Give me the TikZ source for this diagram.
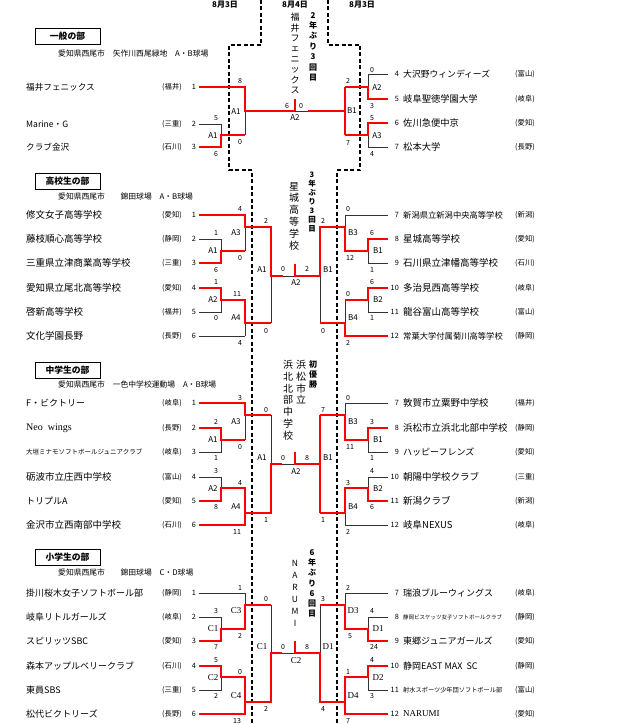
\documentclass[tikz,border=0pt]{standalone}
\usepackage{fontspec}
\setmainfont{Noto Sans CJK JP}
\newfontfamily\lser{Liberation Serif}
\newcommand\tml[5][9.3]{\node[pf] at (172,#2) {(#4)};\node[tn] at (194,#2) {#5};\node[nm,font=\fontsize{#1}{#1}\selectfont] at (26,#2) {#3};}
\newcommand\tmr[5][9.3]{\node[tn,anchor=east] at (399,#2) {#3};\node[nm,font=\fontsize{#1}{#1}\selectfont] at (403,#2) {#4};\node[pf] at (525,#2) {(#5)};}
\begin{document}
\begin{tikzpicture}[x=1pt,y=-1pt,
  thin/.style={line width=0.7pt,draw=black!80},
  win/.style={line width=2.3pt,draw=red,line join=miter},
  dsh/.style={line width=1.1pt,dash pattern=on 4pt off 2.5pt},
  sc/.style={font=\fontsize{7}{8}\selectfont,inner sep=0pt},
  lb/.style={font=\fontsize{8}{9}\selectfont,inner sep=0pt},
  nm/.style={anchor=west,inner sep=0pt},
  pf/.style={font=\fontsize{7.3}{8}\selectfont,inner sep=0pt},
  tn/.style={font=\fontsize{7.3}{8}\selectfont,inner sep=0pt},
  ttl/.style={draw,line width=0.8pt,minimum width=65pt,minimum height=16pt,inner sep=0pt,font=\bfseries\fontsize{8.8}{9}\selectfont},
  ven/.style={anchor=west,inner sep=0pt,font=\fontsize{7.8}{8}\selectfont},
  hd/.style={inner sep=0pt,font=\bfseries\fontsize{8}{9}\selectfont},
  vt/.style={anchor=north,align=center,inner sep=0pt}
]
\useasboundingbox (0,0) rectangle (621,725);
\fill[white] (0,0) rectangle (621,725);
% headers
\node[hd] (h1) at (225,5) {8月3日};
\node[hd] (h2) at (295,5) {8月4日};
\node[hd] (h3) at (362,5) {8月3日};
% dashed separators
\draw[dsh] (261,0)--(261,45)--(229,45)--(229,170)--(252,170)--(252,725);
\draw[dsh] (328,0)--(328,45)--(360,45)--(360,170)--(337,170)--(337,725);

%================ Section 1 =================
\node[ttl] (t1) at (67.5,36.5) {一般の部};
\node[ven] (v1) at (58,54) {愛知県西尾市\quad 矢作川西尾緑地\quad A・B球場};
\draw[thin] (199,87)--(245,87) (199,124)--(221,124)--(221,147)--(199,147) (221,135)--(245,135) (245,87)--(245,135)
  (245,111)--(345,111) (345,87)--(345,135) (345,87)--(368,87) (368,74)--(388,74) (368,74)--(368,99)--(388,99)
  (345,135)--(368,135) (368,123)--(368,147) (368,123)--(388,123) (368,147)--(388,147);
\draw[win] (199,87)--(245,87)--(245,111)--(295,111) (295,111)--(295,99);
\draw[win] (199,147)--(221,147)--(221,135)--(245,135);
\draw[win] (308,111)--(345,111) (345,87)--(345,135);
\draw[win] (345,87)--(368,87)--(368,99)--(388,99) (345,135)--(368,135)--(368,123)--(388,123);
\foreach \x/\y/\t in {240/81/8,216/118/5,216/154/6,240/142/0,287/106/6,301/106/0,348/81/2,348/143/7,372/70/0,372/106/3,372/118/5,372/154/4}
  \node[sc] at (\x,\y) {\t};
\foreach \x/\y/\t in {213/136/A1,236/112/A1,295/118/A2,352/111/B1,377/88/A2,377/136/A3}
  \node[lb] at (\x,\y) {\t};
\node[vt,font=\fontsize{9}{10.4}\selectfont] (c1) at (295,13) {福\\井\\フ\\ェ\\ニ\\ッ\\ク\\ス};
\node[vt,font=\bfseries\fontsize{8}{10.4}\selectfont] (r1) at (313,12) {2\\年\\ぶ\\り\\3\\回\\目};
\tml[8.6]{87}{福井フェニックス}{福井}{1}
\tml[8.6]{124}{Marine・G}{三重}{2}
\tml[8.6]{147}{クラブ金沢}{石川}{3}
\tmr[8.8]{74}{4}{大沢野ウィンディーズ}{富山}
\tmr{99}{5}{岐阜聖徳学園大学}{岐阜}
\tmr{123}{6}{佐川急便中京}{愛知}
\tmr{147}{7}{松本大学}{長野}

%================ Section 2 =================
\node[ttl] (t2) at (67.5,181) {高校生の部};
\node[ven] (v2) at (58,197) {愛知県西尾市\quad\quad 錦田球場\quad A・B球場};
\draw[thin] (199,215)--(245,215) (199,239)--(221,239)--(221,263)--(199,263) (221,251)--(245,251) (245,215)--(245,251)
  (245,227)--(271,227) (199,288)--(221,288)--(221,312)--(199,312) (221,300)--(245,300) (199,336)--(245,336)
  (245,300)--(245,336) (245,323)--(271,323) (271,227)--(271,323) (271,276)--(320,276) (320,227)--(320,323)
  (320,227)--(345,227) (345,215)--(345,251) (345,215)--(388,215) (345,251)--(368,251) (368,239)--(368,263)
  (368,239)--(388,239) (368,263)--(388,263)
  (320,323)--(345,323) (345,300)--(345,336) (345,300)--(368,300) (368,288)--(368,312) (368,288)--(388,288)
  (368,312)--(388,312) (345,336)--(388,336);
\draw[win] (199,215)--(245,215)--(245,227)--(271,227)--(271,276)--(283,276);
\draw[win] (295,264)--(295,276)--(320,276);
\draw[win] (199,263)--(221,263)--(221,251)--(245,251);
\draw[win] (199,288)--(221,288)--(221,300)--(245,300)--(245,323)--(271,323);
\draw[win] (320,276)--(320,227)--(345,227)--(345,251)--(368,251)--(368,239)--(388,239);
\draw[win] (320,323)--(345,323)--(345,336)--(388,336);
\draw[win] (345,300)--(368,300)--(368,288)--(388,288);
\foreach \x/\y/\t in {240/209/4,216/233/1,240/258/0,216/270/6,216/282/1,237/294/11,216/318/0,240/343/4,266/221/2,266/331/0,283/269/0,307/269/2,323/221/2,323/331/0,348/209/0,350/258/12,372/233/6,372/270/1,372/282/6,348/294/0,372/318/1,348/343/2}
  \node[sc] at (\x,\y) {\t};
\foreach \x/\y/\t in {236/233/A3,213/251/A1,213/300/A2,236/318/A4,262/270/A1,296/283/A2,328/270/B1,353/233/B3,378/251/B1,378/300/B2,353/318/B4}
  \node[lb] at (\x,\y) {\t};
\node[vt,font=\fontsize{10}{11.8}\selectfont] (c2) at (294,182) {星\\城\\高\\等\\学\\校};
\node[vt,font=\bfseries\fontsize{7.5}{8.9}\selectfont] (r2) at (312,172) {3\\年\\ぶ\\り\\3\\回\\目};
\tml[9.5]{215}{修文女子高等学校}{愛知}{1}
\tml[9.5]{239}{藤枝順心高等学校}{静岡}{2}
\tml[9.5]{263}{三重県立津商業高等学校}{三重}{3}
\tml[9.5]{288}{愛知県立尾北高等学校}{愛知}{4}
\tml[9.5]{312}{啓新高等学校}{福井}{5}
\tml[9.5]{336}{文化学園長野}{長野}{6}
\tmr[8.3]{215}{7}{新潟県立新潟中央高等学校}{新潟}
\tmr[9.5]{239}{8}{星城高等学校}{愛知}
\tmr[9.5]{263}{9}{石川県立津幡高等学校}{石川}
\tmr[9.5]{288}{10}{多治見西高等学校}{岐阜}
\tmr[9.5]{312}{11}{龍谷富山高等学校}{富山}
\tmr[8.3]{336}{12}{常葉大学付属菊川高等学校}{静岡}

%================ Section 3 =================
\node[ttl] (t3) at (67.5,370) {中学生の部};
\node[ven] (v3) at (58,385) {愛知県西尾市\quad 一色中学校運動場\quad A・B球場};
\draw[thin] (199,403)--(245,403) (199,428)--(221,428)--(221,452)--(199,452) (221,440)--(245,440) (245,403)--(245,440)
  (245,415)--(271,415) (199,477)--(221,477)--(221,501)--(199,501) (221,488)--(245,488) (199,525)--(245,525)
  (245,488)--(245,525) (245,513)--(271,513) (271,415)--(271,513) (271,464)--(320,464) (320,415)--(320,513)
  (320,415)--(345,415) (345,403)--(345,440) (345,403)--(388,403) (345,440)--(368,440) (368,428)--(368,452)
  (368,428)--(388,428) (368,452)--(388,452)
  (320,513)--(345,513) (345,488)--(345,525) (345,488)--(368,488) (368,477)--(368,501) (368,477)--(388,477)
  (368,501)--(388,501) (345,525)--(388,525);
\draw[win] (199,403)--(245,403)--(245,415)--(271,415);
\draw[win] (199,428)--(221,428)--(221,440)--(245,440);
\draw[win] (199,501)--(221,501)--(221,488)--(245,488)--(245,513);
\draw[win] (199,525)--(245,525)--(245,513)--(271,513)--(271,464)--(282,464);
\draw[win] (295,452)--(295,464)--(320,464);
\draw[win] (320,415)--(320,513);
\draw[win] (320,415)--(345,415)--(345,440)--(368,440)--(368,428)--(388,428);
\draw[win] (320,513)--(345,513)--(345,488)--(368,488)--(368,501)--(388,501);
\foreach \x/\y/\t in {240/398/3,216/422/2,240/447/0,216/458/1,216/471/3,240/483/4,216/507/8,237/532/11,266/410/0,266/520/1,283/458/0,307/458/8,323/410/7,323/520/1,348/398/0,350/447/11,372/422/3,372/458/1,372/471/4,348/483/3,372/507/6,348/532/2}
  \node[sc] at (\x,\y) {\t};
\foreach \x/\y/\t in {236/422/A3,213/440/A1,213/489/A2,236/507/A4,262/458/A1,296/472/A2,328/458/B1,353/422/B3,378/440/B1,378/489/B2,353/507/B4}
  \node[lb] at (\x,\y) {\t};
\node[vt,font=\fontsize{10}{11.8}\selectfont] (c3a) at (288,360) {浜\\北\\北\\部\\中\\学\\校};
\node[vt,font=\fontsize{10}{11.8}\selectfont] (c3b) at (301,360) {浜\\松\\市\\立};
\node[vt,font=\bfseries\fontsize{8}{10}\selectfont] (r3) at (313,360) {初\\優\\勝};
\tml[9]{403}{F・ビクトリー}{岐阜}{1}
\tml[9]{428}{{\lser\fontsize{10}{10}\selectfont Neo\ \ wings}}{長野}{2}
\tml[6.5]{452}{大垣ミナモソフトボールジュニアクラブ}{岐阜}{3}
\tml[9.5]{477}{砺波市立庄西中学校}{富山}{4}
\tml[9]{501}{トリプルA}{愛知}{5}
\tml[9.5]{525}{金沢市立西南部中学校}{石川}{6}
\tmr[9.5]{403}{7}{敦賀市立粟野中学校}{福井}
\tmr[9.5]{428}{8}{浜松市立浜北北部中学校}{静岡}
\tmr[9]{452}{9}{ハッピーフレンズ}{愛知}
\tmr[9.5]{477}{10}{朝陽中学校クラブ}{三重}
\tmr[9.5]{501}{11}{新潟クラブ}{新潟}
\tmr[9.5]{525}{12}{岐阜NEXUS}{岐阜}

%================ Section 4 =================
\node[ttl] (t4) at (67.5,557) {小学生の部};
\node[ven] (v4) at (58,573) {愛知県西尾市\quad\quad 錦田球場\quad C・D球場};
\draw[thin] (199,593)--(245,593) (199,617)--(221,617)--(221,641)--(199,641) (221,629)--(245,629) (245,593)--(245,629)
  (245,605)--(271,605) (199,666)--(221,666)--(221,690)--(199,690) (221,677)--(245,677) (199,714)--(245,714)
  (245,677)--(245,714) (245,702)--(271,702) (271,605)--(271,702) (271,653)--(320,653) (320,605)--(320,702)
  (320,605)--(345,605) (345,593)--(345,629) (345,593)--(388,593) (345,629)--(368,629) (368,617)--(368,641)
  (368,617)--(388,617) (368,641)--(388,641)
  (320,702)--(345,702) (345,677)--(345,714) (345,677)--(368,677) (368,666)--(368,690) (368,666)--(388,666)
  (368,690)--(388,690) (345,714)--(388,714);
\draw[win] (199,641)--(221,641)--(221,629)--(245,629)--(245,605)--(271,605);
\draw[win] (199,666)--(221,666)--(221,677)--(245,677)--(245,702);
\draw[win] (199,714)--(245,714)--(245,702)--(271,702)--(271,653)--(282,653);
\draw[win] (295,641)--(295,653)--(320,653)--(320,702)--(345,702);
\draw[win] (320,605)--(345,605)--(345,629)--(368,629)--(368,641)--(388,641);
\draw[win] (345,702)--(345,677)--(368,677)--(368,666)--(388,666);
\draw[win] (345,702)--(345,714)--(388,714);
\foreach \x/\y/\t in {240/588/1,216/611/3,240/636/2,216/647/7,216/660/5,240/672/0,216/696/2,237/721/13,266/599/0,266/709/2,283/647/0,307/647/8,323/599/3,323/709/4,348/588/2,350/636/5,372/611/4,374/647/24,372/660/4,348/672/1,372/696/3,348/721/7}
  \node[sc] at (\x,\y) {\t};
\foreach \x/\y/\t in {236/611/C3,213/629/C1,213/678/C2,236/696/C4,262/647/C1,296/661/C2,328/647/D1,353/611/D3,378/629/D1,378/678/D2,353/696/D4}
  \node[lb,font=\lser\fontsize{9}{9}\selectfont] at (\x,\y) {\t};
\node[vt,font=\fontsize{8.5}{12}\selectfont] (c4) at (295,560) {N\\A\\R\\U\\M\\I};
\node[vt,font=\bfseries\fontsize{8}{10.3}\selectfont] (r4) at (312,549) {6\\年\\ぶ\\り\\6\\回\\目};
\tml[9]{593}{掛川桜木女子ソフトボール部}{静岡}{1}
\tml[9]{617}{岐阜リトルガールズ}{岐阜}{2}
\tml[9]{641}{スピリッツSBC}{愛知}{3}
\tml[9]{666}{森本アップルベリークラブ}{石川}{4}
\tml[9]{690}{東員SBS}{三重}{5}
\tml[9]{714}{松代ビクトリーズ}{長野}{6}
\tmr[9]{593}{7}{瑞浪ブルーウィングス}{岐阜}
\tmr[5.5]{617}{8}{静岡ビスケッツ女子ソフトボールクラブ}{静岡}
\tmr[9]{641}{9}{東郷ジュニアガールズ}{愛知}
\tmr[9]{666}{10}{静岡EAST MAX\ \ SC}{静岡}
\tmr[6.2]{690}{11}{射水スポーツ少年団ソフトボール部}{富山}
\tmr[9]{714}{12}{{\lser NARUMI}}{愛知}
\end{tikzpicture}
\end{document}
